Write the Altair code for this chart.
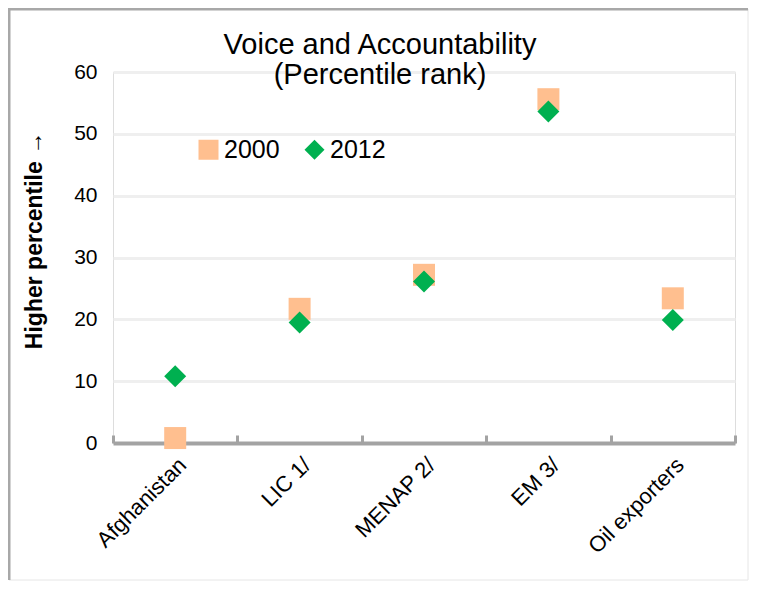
import altair as alt
import pandas as pd

categories = ["Afghanistan", "LIC 1/", "MENAP 2/", "EM 3/", "Oil exporters"]
years = ["2000", "2012"]
values_2000 = [0.8, 21.7, 27.2, 55.6, 23.4]
values_2012 = [10.8, 19.5, 26.1, 53.6, 19.9]
y_ticks = [0, 10, 20, 30, 40, 50, 60]
title_lines = ["Voice and Accountability", "(Percentile rank)"]
y_title = "Higher percentile \u2192"

rows = []
for yr, vals in zip(years, [values_2000, values_2012]):
    for c, v in zip(categories, vals):
        rows.append({"region": c, "year": yr, "value": v})
df = pd.DataFrame(rows)

FONT = "Liberation Sans"
W, H = 622, 371

legend = alt.Legend(
    title=None, orient="none", legendX=83, legendY=65, direction="horizontal",
    labelFontSize=25, labelFont=FONT, labelColor="black", symbolSize=400,
    labelOffset=3, columnPadding=22, padding=0, symbolStrokeWidth=0,
)

points = alt.Chart(df).mark_point(filled=True, opacity=1, size=484).encode(
    x=alt.X("region:N", sort=categories,
            scale=alt.Scale(paddingInner=0, paddingOuter=0),
            axis=alt.Axis(title=None, domain=False, ticks=True, tickBand="extent",
                          tickSize=8, tickWidth=3, tickColor="#a3a3a3", offset=-8,
                          labelAngle=-45, labelFontSize=22, labelFont=FONT,
                          labelColor="black", labelPadding=11, grid=False,
                          labelOverlap=False)),
    y=alt.Y("value:Q", scale=alt.Scale(domain=[0, 60], nice=False),
            axis=alt.Axis(values=y_ticks, grid=True,
                          gridColor={"condition": {"test": "datum.value === 0", "value": "#a3a3a3"}, "value": "#efefef"},
                          gridWidth={"condition": {"test": "datum.value === 0", "value": 4}, "value": 3},
                          domain=False, ticks=False, labelFontSize=21, labelFont=FONT,
                          labelColor="black", labelPadding=16,
                          title=y_title, titleFontSize=23, titleFont=FONT,
                          titleFontWeight="bold", titleColor="black", titleAngle=270,
                          titleX=-79, titleY=168, titleAlign="center",
                          titleBaseline="middle")),
    color=alt.Color("year:N", scale=alt.Scale(domain=years, range=["#FFBF8F", "#00B050"]),
                    legend=legend),
    shape=alt.Shape("year:N", scale=alt.Scale(domain=years, range=["square", "diamond"]),
                    legend=legend),
)

one = alt.Data(values=[{}])
frame_light = alt.Chart(one).mark_rect(fillOpacity=0, stroke="#e6e6e6", strokeWidth=1).encode(
    x=alt.value(-104), x2=alt.value(635), y=alt.value(-63), y2=alt.value(508))
frame_left = alt.Chart(one).mark_rule(color="#a8a8a8", strokeWidth=3).encode(
    x=alt.value(-104), y=alt.value(-64), y2=alt.value(508))
frame_top = alt.Chart(one).mark_rule(color="#a8a8a8", strokeWidth=3).encode(
    x=alt.value(-105), x2=alt.value(635), y=alt.value(-63))

chart = alt.layer(frame_light, frame_left, frame_top, points).properties(
    width=W, height=H,
    autosize=alt.AutoSizeParams(type="none"),
    padding={"left": 105, "top": 64, "right": 14, "bottom": 138},
    title=alt.TitleParams(text=title_lines, fontSize=29, font=FONT, fontWeight="normal",
                          color="black", anchor="middle", dx=-44, lineHeight=30,
                          offset=0, baseline="bottom", dy=112),
).configure_view(stroke=None).configure(font=FONT)

chart.save("out.html", embed_options={"renderer": "svg", "actions": False})
